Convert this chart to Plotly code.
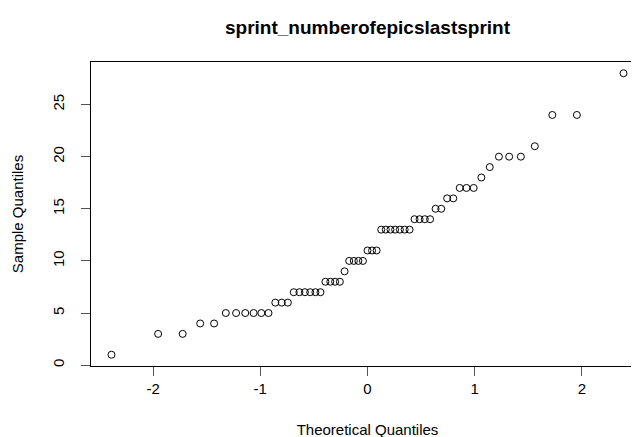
import plotly.graph_objects as go
from statistics import NormalDist

# Sample values (sorted)
sample_values = [1, 3, 3, 4, 4, 5, 5, 5, 5, 5, 5, 6, 6, 6,
                 7, 7, 7, 7, 7, 7, 8, 8, 8, 8, 9, 10, 10, 10, 10,
                 11, 11, 11, 13, 13, 13, 13, 13, 13, 13, 14, 14, 14, 14,
                 15, 15, 16, 16, 17, 17, 17, 18, 19, 20, 20, 20, 21, 24, 24, 28]
title_text = "sprint_numberofepicslastsprint"
x_ticks = [-2, -1, 0, 1, 2]
y_ticks = [0, 5, 10, 15, 20, 25]

n = len(sample_values)
a = 3 / 8 if n <= 10 else 0.5
nd = NormalDist()
theoretical = [nd.inv_cdf((i + 1 - a) / (n + 1 - 2 * a)) for i in range(n)]

xr = max(theoretical) - min(theoretical)
yr = max(sample_values) - min(sample_values)
xlim = [min(theoretical) - 0.04 * xr, max(theoretical) + 0.04 * xr]
ylim = [min(sample_values) - 0.04 * yr, max(sample_values) + 0.04 * yr]

font_family = "Liberation Sans, Arial, sans-serif"
L, R, T, B = 83, 3, 54, 79

fig = go.Figure()
fig.add_trace(go.Scatter(
    x=theoretical, y=sample_values, mode="markers",
    marker=dict(symbol="circle-open", size=7, color="black", line=dict(width=1, color="black")),
    showlegend=False, hoverinfo="x+y",
))

fig.update_layout(
    width=639, height=437,
    margin=dict(l=L, r=R, t=T, b=B),
    plot_bgcolor="white", paper_bgcolor="white",
    font=dict(family=font_family, size=15, color="black"),
    title=dict(text="<b>" + title_text + "</b>", x=(L + 639 - R) / 2 / 639, xanchor="center",
               y=1 - 19 / 437, yanchor="middle", font=dict(size=19, family=font_family)),
    xaxis=dict(
        range=xlim, tickvals=x_ticks, ticktext=[str(v) for v in x_ticks],
        showgrid=False, zeroline=False, showline=True, mirror=True,
        linecolor="black", linewidth=1,
        ticks="outside", ticklen=9, tickcolor="#555", tickwidth=1,
        tickfont=dict(size=15),
        title=dict(text="Theoretical Quantiles", font=dict(size=15), standoff=28),
    ),
    yaxis=dict(
        range=ylim, tickvals=y_ticks, ticktext=[str(v) for v in y_ticks],
        showgrid=False, zeroline=False, showline=True, mirror=True,
        linecolor="black", linewidth=1,
        ticks="outside", ticklen=9, tickcolor="#555", tickwidth=1,
        tickangle=-90, tickfont=dict(size=15), ticklabelstandoff=11,
        title=dict(text="Sample Quantiles", font=dict(size=15), standoff=22),
    ),
)

fig.write_html("out.html")
